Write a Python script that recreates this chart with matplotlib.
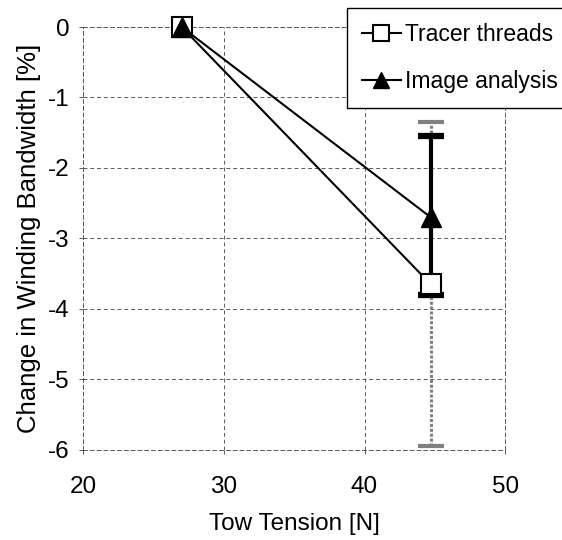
import matplotlib.pyplot as plt

plt.rcParams['font.family'] = ['Liberation Sans', 'DejaVu Sans']
plt.rcParams['axes.unicode_minus'] = False

tension = [27, 44.7]
tracer = [0, -3.65]
tracer_err = [0, 2.3]
image = [0, -2.7]
image_err_low = [0, 1.1]
image_err_high = [0, 1.15]

fig = plt.figure(figsize=(5.62, 5.40), dpi=100)
ax = fig.add_axes([0.148, 0.167, 0.751, 0.783])

# error bars first so markers sit on top
eb = ax.errorbar(tension[1:], tracer[1:], yerr=tracer_err[1:], fmt='none',
                 ecolor='0.5', elinewidth=2.2, capsize=9.5, capthick=3,
                 zorder=2)
eb[2][0].set_linestyle((0, (1, 0.6)))
ax.errorbar(tension[1:], image[1:], yerr=[image_err_low[1:], image_err_high[1:]],
            fmt='none', ecolor='black', elinewidth=3, capsize=9.5, capthick=4.5,
            zorder=3)

ax.plot(tension, tracer, color='black', lw=1.5, marker='s', ms=14,
        mfc='white', mec='black', mew=1.5, label='Tracer threads', zorder=4,
        clip_on=False)
ax.plot(tension, image, color='black', lw=1.5, marker='^', ms=14,
        mfc='black', mec='black', label='Image analysis', zorder=5,
        clip_on=False)

ax.set_xlim(20, 50)
ax.set_ylim(-6, 0)
ax.set_xticks([20, 30, 40, 50])
ax.set_yticks(range(-6, 1))
ax.tick_params(axis='y', length=3, width=0.7, color='0.35', labelsize=17.5, pad=7)
ax.tick_params(axis='x', length=3, width=0.7, color='0.35', labelsize=17.5, pad=16)
ax.grid(True, color='0.35', linestyle=(0, (4, 3)), lw=0.7)
for s in ax.spines.values():
    s.set_linestyle((0, (4, 3)))
    s.set_linewidth(0.7)
    s.set_color('0.35')

ax.set_xlabel('Tow Tension [N]', fontsize=17.5, labelpad=11)
ax.set_ylabel('Change in Winding Bandwidth [%]', fontsize=18.5, labelpad=5)

leg = ax.legend(loc='upper left', bbox_to_anchor=(347 / 562, 1 - 8 / 540),
                bbox_transform=fig.transFigure, fontsize=16.5, fancybox=False,
                framealpha=1, edgecolor='black', handlelength=1.7,
                handletextpad=0.2, labelspacing=1.05, borderpad=0.65,
                borderaxespad=0, markerscale=0.8)
leg.get_frame().set_linewidth(1.0)
leg.set_zorder(10)

fig.savefig('out.png', dpi=100)
